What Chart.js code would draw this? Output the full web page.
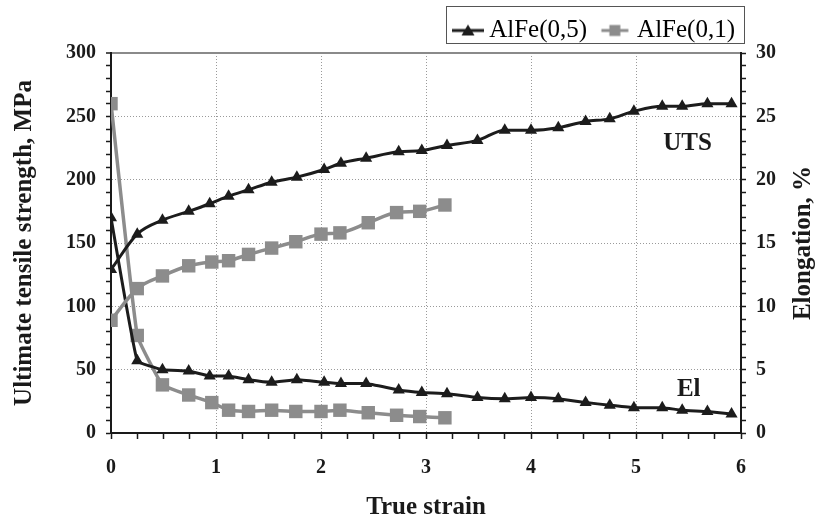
<!DOCTYPE html>
<html>
<head>
<meta charset="utf-8">
<script src="https://cdn.jsdelivr.net/npm/chart.js@4.4.1/dist/chart.umd.min.js"></script>
<style>
  html, body { margin: 0; padding: 0; background: #fff; }
  #wrap { width: 818px; height: 524px; }
</style>
</head>
<body>
<div id="wrap"><canvas id="chart"></canvas></div>
<script>
// AlFe(0,5)
const strain05 = [0, 0.25, 0.49, 0.74, 0.94, 1.12, 1.31, 1.53, 1.77, 2.03, 2.19, 2.43, 2.74, 2.96, 3.20, 3.49, 3.75, 4.00, 4.26, 4.52, 4.75, 4.98, 5.25, 5.44, 5.68, 5.91];
const uts05 = [129, 157, 168, 175, 181, 187, 192, 198, 202, 208, 213, 217, 222, 223, 227, 231, 239, 239, 241, 246, 248, 254, 258, 258, 260, 260];
const el05 = [17.0, 5.7, 5.0, 4.9, 4.5, 4.5, 4.2, 4.0, 4.2, 4.0, 3.9, 3.9, 3.4, 3.2, 3.1, 2.8, 2.7, 2.8, 2.7, 2.4, 2.2, 2.0, 2.0, 1.8, 1.7, 1.5];
// AlFe(0,1)
const strain01 = [0, 0.25, 0.49, 0.74, 0.96, 1.12, 1.31, 1.53, 1.76, 2.00, 2.18, 2.45, 2.72, 2.94, 3.18];
const uts01 = [89, 114, 124, 132, 135, 136, 141, 146, 151, 157, 158, 166, 174, 175, 180];
const el01 = [26.0, 7.7, 3.8, 3.0, 2.4, 1.8, 1.7, 1.8, 1.7, 1.7, 1.8, 1.6, 1.4, 1.3, 1.2];

const seriesNames = ['AlFe(0,5)', 'AlFe(0,1)'];
const notes = ['UTS', 'El'];
const noteX = [5.26, 5.39];
const noteY = [223.5, 29];

const BLACK = '#1c1c1c';
const GREY = '#8c8c8c';
const FONT = '"Liberation Serif", "Times New Roman", serif';

Chart.defaults.font.family = FONT;
Chart.defaults.color = '#1a1a1a';

const pts = (xs, ys) => xs.map((v, i) => ({ x: v, y: ys[i] }));

// legend icons: line + marker, shifted right inside a wider transparent canvas
function legendIcon(color, shape, cx, w) {
  const c = document.createElement('canvas');
  c.width = 48; c.height = 16;
  const g = c.getContext('2d');
  g.strokeStyle = color; g.fillStyle = color; g.lineWidth = 3;
  g.beginPath(); g.moveTo(cx - w / 2, 8); g.lineTo(cx + w / 2, 8); g.stroke();
  g.beginPath();
  if (shape === 'triangle') {
    g.moveTo(cx, 2); g.lineTo(cx + 6.5, 13); g.lineTo(cx - 6.5, 13); g.closePath();
  } else {
    g.rect(cx - 5.5, 2.5, 11, 11);
  }
  g.fill();
  return c;
}
const icons = [legendIcon(BLACK, 'triangle', 31, 32), legendIcon(GREY, 'rect', 30, 27)];

const isInt = v => Math.abs(v - Math.round(v)) < 1e-6;

const extras = {
  id: 'extras',
  afterDraw(chart) {
    const ctx = chart.ctx;
    const { x, y, y1 } = chart.scales;
    const area = chart.chartArea;
    ctx.save();
    ctx.fillStyle = '#1a1a1a';
    ctx.font = 'bold 25px ' + FONT;
    ctx.textAlign = 'left';
    ctx.textBaseline = 'alphabetic';
    notes.forEach((t, i) => {
      ctx.fillText(t, x.getPixelForValue(noteX[i]), y.getPixelForValue(noteY[i]));
    });
    // right axis title, reading bottom to top
    ctx.save();
    ctx.translate(y1.right - 14, (area.top + area.bottom) / 2);
    ctx.rotate(-Math.PI / 2);
    ctx.textAlign = 'center';
    ctx.textBaseline = 'middle';
    ctx.fillText('Elongation, %', 0, 0);
    ctx.restore();
    // legend frame
    const hb = chart.legend.legendHitBoxes;
    if (hb && hb.length) {
      const cy = hb[0].top + hb[0].height / 2;
      const l = hb[0].left + 1;
      const r = chart.legend.right + 3;
      ctx.strokeStyle = '#555';
      ctx.lineWidth = 1;
      ctx.strokeRect(Math.round(l) + 0.5, Math.round(cy - 25) + 0.5, Math.round(r - l), 37);
    }
    ctx.restore();
  }
};

new Chart(document.getElementById('chart'), {
  type: 'line',
  data: {
    datasets: [
      {
        label: seriesNames[0], data: pts(strain05, uts05), yAxisID: 'y',
        borderColor: BLACK, backgroundColor: BLACK, borderWidth: 3,
        cubicInterpolationMode: 'monotone',
        pointStyle: 'triangle', pointRadius: 7, pointBorderWidth: 0
      },
      {
        label: seriesNames[1], data: pts(strain01, uts01), yAxisID: 'y',
        borderColor: GREY, backgroundColor: GREY, borderWidth: 3.5,
        cubicInterpolationMode: 'monotone',
        pointStyle: 'rect', pointRadius: 9.5, pointBorderWidth: 0
      },
      {
        label: seriesNames[0] + ' El', data: pts(strain05, el05), yAxisID: 'y1',
        borderColor: BLACK, backgroundColor: BLACK, borderWidth: 3, tension: 0.1,
        pointStyle: 'triangle', pointRadius: 7, pointBorderWidth: 0
      },
      {
        label: seriesNames[1] + ' El', data: pts(strain01, el01), yAxisID: 'y1',
        borderColor: GREY, backgroundColor: GREY, borderWidth: 3.5, tension: 0.1,
        pointStyle: 'rect', pointRadius: 9.5, pointBorderWidth: 0
      }
    ]
  },
  options: {
    responsive: true,
    maintainAspectRatio: false,
    animation: false,
    layout: { padding: { top: 12, left: 0, right: 0, bottom: 0 } },
    plugins: {
      tooltip: { enabled: false },
      legend: {
        position: 'top',
        align: 'end',
        fullSize: false,
        labels: {
          usePointStyle: true,
          pointStyleWidth: 31.5,
          padding: 6,
          color: '#111',
          font: { size: 25, family: FONT },
          generateLabels: () => seriesNames.map((n, i) => ({
            text: n, datasetIndex: i, pointStyle: icons[i],
            fillStyle: 'transparent', strokeStyle: 'transparent', lineWidth: 0, hidden: false
          }))
        }
      }
    },
    scales: {
      x: {
        type: 'linear', min: 0, max: 6,
        afterFit: s => { s.height = 91; },
        ticks: {
          stepSize: 0.25, autoSkip: false, maxRotation: 0, padding: 17,
          font: { size: 20, weight: 'bold' }, color: '#1a1a1a',
          callback: v => isInt(v) ? String(Math.round(v)) : ''
        },
        grid: {
          color: c => (c.tick && isInt(c.tick.value) && c.tick.value > 0 && c.tick.value < 6) ? '#9a9a9a' : 'transparent',
          tickColor: '#1a1a1a', tickLength: 6, tickWidth: 1.5, tickBorderDash: [], lineWidth: 1
        },
        border: { color: '#1a1a1a', width: 2, dash: [1, 2] },
        title: { display: true, text: 'True strain', font: { size: 25, weight: 'bold' }, color: '#1a1a1a', padding: { top: 0, bottom: 1 } }
      },
      y: {
        position: 'left', min: 0, max: 300,
        afterFit: s => { s.width = 111; },
        ticks: {
          stepSize: 10, autoSkip: false, padding: 10,
          font: { size: 20, weight: 'bold' }, color: '#1a1a1a',
          callback: v => v % 50 === 0 ? String(v) : ''
        },
        grid: {
          color: c => {
            if (!c.tick) return 'transparent';
            const v = c.tick.value;
            if (v === 300) return '#8a8a8a';
            return (v % 50 === 0 && v > 0) ? '#9a9a9a' : 'transparent';
          },
          lineWidth: c => (c.tick && c.tick.value === 300) ? 2 : 1,
          tickColor: '#1a1a1a', tickLength: 5, tickWidth: 1.5, tickBorderDash: []
        },
        border: { color: '#1a1a1a', width: 2, dash: c => (c.tick && c.tick.value === 300) ? [] : [1, 2] },
        title: { display: true, text: 'Ultimate tensile strength, MPa', font: { size: 25, weight: 'bold' }, color: '#1a1a1a', padding: { top: 10, bottom: 0 } }
      },
      y1: {
        position: 'right', min: 0, max: 30,
        afterFit: s => { s.width = 77; },
        ticks: {
          stepSize: 1, autoSkip: false, padding: 10,
          font: { size: 20, weight: 'bold' }, color: '#1a1a1a',
          callback: v => v % 5 === 0 ? String(v) : ''
        },
        grid: {
          drawOnChartArea: false,
          tickColor: '#1a1a1a', tickLength: 5, tickWidth: 1.5, tickBorderDash: []
        },
        border: { color: '#1a1a1a', width: 2 }
      }
    }
  },
  plugins: [extras]
});
</script>
</body>
</html>
